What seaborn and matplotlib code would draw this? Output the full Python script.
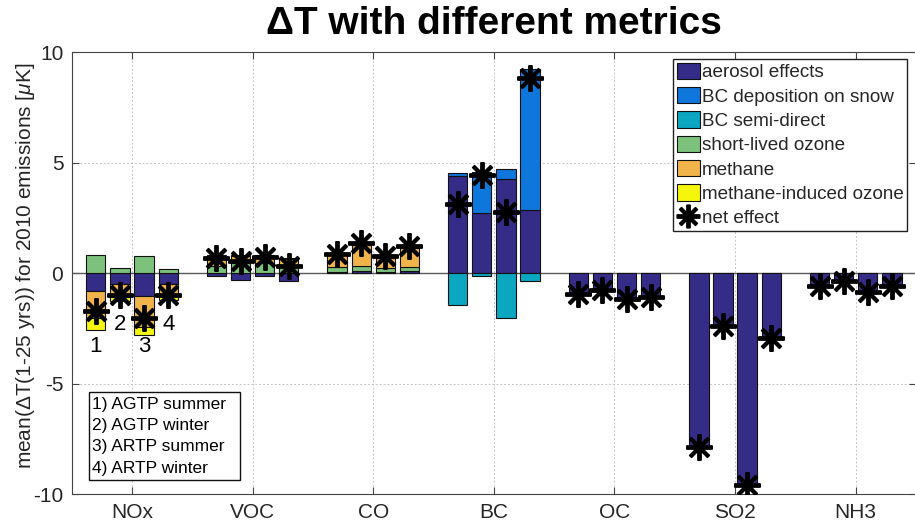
import numpy as np
import matplotlib
matplotlib.use("Agg")
import matplotlib.pyplot as plt
import seaborn as sns
from matplotlib.patches import Patch, Rectangle
from matplotlib.lines import Line2D

# ---------------- data ----------------
groups = ["NOx", "VOC", "CO", "BC", "OC", "SO2", "NH3"]
metric_labels = ["1) AGTP summer", "2) AGTP winter", "3) ARTP summer", "4) ARTP winter"]
bar_numbers = ["1", "2", "3", "4"]
bar_number_y = [-3.3, -2.3, -3.3, -2.3]

component_names = ["aerosol effects", "BC deposition on snow", "BC semi-direct",
                   "short-lived ozone", "methane", "methane-induced ozone"]

# rows = groups (NOx..NH3), columns = metrics (AGTP s, AGTP w, ARTP s, ARTP w)
aerosol = [[-0.78, -0.47, -1.03, -0.47],
           [-0.14, -0.29, -0.10, -0.36],
           [0.08, 0.12, 0.07, 0.10],
           [4.40, 2.75, 4.26, 2.85],
           [-0.92, -0.80, -1.15, -1.08],
           [-7.86, -2.39, -9.56, -2.94],
           [-0.56, -0.34, -0.83, -0.58]]
bc_snow = [[0, 0, 0, 0], [0, 0, 0, 0], [0, 0, 0, 0],
           [0.12, 1.82, 0.48, 6.39],
           [0, 0, 0, 0], [0, 0, 0, 0], [0, 0, 0, 0]]
bc_semi = [[0, 0, 0, 0], [0, 0, 0, 0], [0, 0, 0, 0],
           [-1.42, -0.12, -2.00, -0.35],
           [0, 0, 0, 0], [0, 0, 0, 0], [0, 0, 0, 0]]
ozone = [[0.82, 0.26, 0.77, 0.21],
         [0.32, 0.45, 0.47, 0.36],
         [0.20, 0.20, 0.18, 0.20],
         [0, 0, 0, 0], [0, 0, 0, 0], [0, 0, 0, 0], [0, 0, 0, 0]]
methane = [[-1.25, -0.61, -1.41, -0.54],
           [0.48, 0.35, 0.33, 0.28],
           [0.54, 0.95, 0.45, 0.83],
           [0, 0, 0, 0], [0, 0, 0, 0], [0, 0, 0, 0], [0, 0, 0, 0]]
mi_ozone = [[-0.52, -0.19, -0.36, -0.19],
            [0.05, 0.04, 0.04, 0.04],
            [0.07, 0.08, 0.07, 0.10],
            [0, 0, 0, 0], [0, 0, 0, 0], [0, 0, 0, 0], [0, 0, 0, 0]]
net = [[-1.71, -1.00, -2.01, -0.97],
       [0.71, 0.57, 0.74, 0.32],
       [0.89, 1.35, 0.77, 1.23],
       [3.14, 4.45, 2.79, 8.85],
       [-0.95, -0.77, -1.18, -1.08],
       [-7.86, -2.39, -9.56, -2.94],
       [-0.56, -0.34, -0.83, -0.58]]

colors = ["#352C88", "#0F76DB", "#0BA7C1", "#7CC27C", "#F0B44A", "#F6F60C"]

# ---------------- style ----------------
sns.set_style("ticks")
plt.rcParams["font.family"] = ["Liberation Sans", "DejaVu Sans"]
plt.rcParams["mathtext.fontset"] = "custom"
plt.rcParams["mathtext.it"] = "Liberation Sans:italic"
plt.rcParams["mathtext.rm"] = "Liberation Sans"
plt.rcParams["axes.unicode_minus"] = False
txt = "#262626"

fig = plt.figure(figsize=(9.15, 5.27), dpi=100)
ax = fig.add_axes([71.7 / 915, 1 - 494.3 / 527, (916 - 71.7) / 915, (494.3 - 52.3) / 527])

offsets = np.array([-0.3, -0.1, 0.1, 0.3])
width = 0.16
xpos = np.array([[g + 1 + o for o in offsets] for g in range(len(groups))]).ravel()

comps = [aerosol, bc_snow, bc_semi, ozone, methane, mi_ozone]
pos_bottom = np.zeros(xpos.size)
neg_bottom = np.zeros(xpos.size)
for vals, col in zip(comps, colors):
    v = np.array(vals, dtype=float).ravel()
    bottom = np.where(v >= 0, pos_bottom, neg_bottom)
    mask = v != 0
    ax.bar(xpos[mask], v[mask], width=width, bottom=bottom[mask], color=col,
           edgecolor="#111111", linewidth=0.8, zorder=3)
    pos_bottom = pos_bottom + np.where(v > 0, v, 0)
    neg_bottom = neg_bottom + np.where(v < 0, v, 0)

ax.axhline(0, color="#5a5a5a", lw=1.0, zorder=2)

ax.plot(xpos, np.array(net).ravel(), ls="none", marker=(8, 2, 0), ms=19, mew=2.8,
        color="black", zorder=5)

# numbers under NOx bars
for i, (lab, yy) in enumerate(zip(bar_numbers, bar_number_y)):
    ax.text(1 + offsets[i], yy, lab, ha="center", va="center", fontsize=16, color="black", zorder=6)

ax.set_xlim(0.5, 7.5)
ax.set_ylim(-10, 10)
ax.set_xticks(range(1, len(groups) + 1))
ax.set_xticklabels(groups)
ax.set_yticks([-10, -5, 0, 5, 10])
ax.tick_params(direction="in", top=True, right=True, length=5, width=0.8,
               labelsize=15, labelcolor=txt, color="#444444", pad=6)
ax.tick_params(axis="x", pad=6)
for s in ax.spines.values():
    s.set_color("#444444")
    s.set_linewidth(0.8)
ax.grid(True, ls=(0, (2, 2)), color="#c4c4c4", lw=0.7, zorder=0)
ax.set_axisbelow(True)

ax.set_title("ΔT with different metrics", fontsize=28, fontweight="bold", pad=13, color="black")

fig.text(26 / 915, 1 - 266 / 527, "mean(ΔT(1-25 yrs)) for 2010 emissions [$\\mu$K]",
         rotation=90, ha="center", va="center", fontsize=15, color=txt)

# legend
handles = [Patch(facecolor=c, edgecolor="#111111", lw=0.8) for c in colors]
handles.append(Line2D([], [], ls="none", marker=(8, 2, 0), ms=17, mew=2.8, color="black"))
labels = component_names + ["net effect"]
leg = ax.legend(handles, labels, loc="upper left", bbox_to_anchor=(673.3 / 915, 1 - 59 / 527),
                bbox_transform=fig.transFigure, fontsize=13.6, frameon=True, fancybox=False,
                edgecolor="#222222", framealpha=1, borderpad=0.2, labelspacing=0.3,
                handlelength=1.2, handleheight=0.95, handletextpad=0.1, borderaxespad=0)
leg.get_frame().set_linewidth(1.0)
leg.set_zorder(10)

# metric key box
box = Rectangle((89 / 915, 1 - 480 / 527), (240 - 89) / 915, (480 - 391.7) / 527,
                transform=fig.transFigure, facecolor="white", edgecolor="#111111", lw=1.0, zorder=8)
fig.add_artist(box)
for lab, yy in zip(metric_labels, [404, 425.5, 447, 468.5]):
    fig.text(92.5 / 915, 1 - yy / 527, lab, ha="left", va="center", fontsize=12.5, color="black", zorder=9)

fig.savefig("out.png", dpi=100)
